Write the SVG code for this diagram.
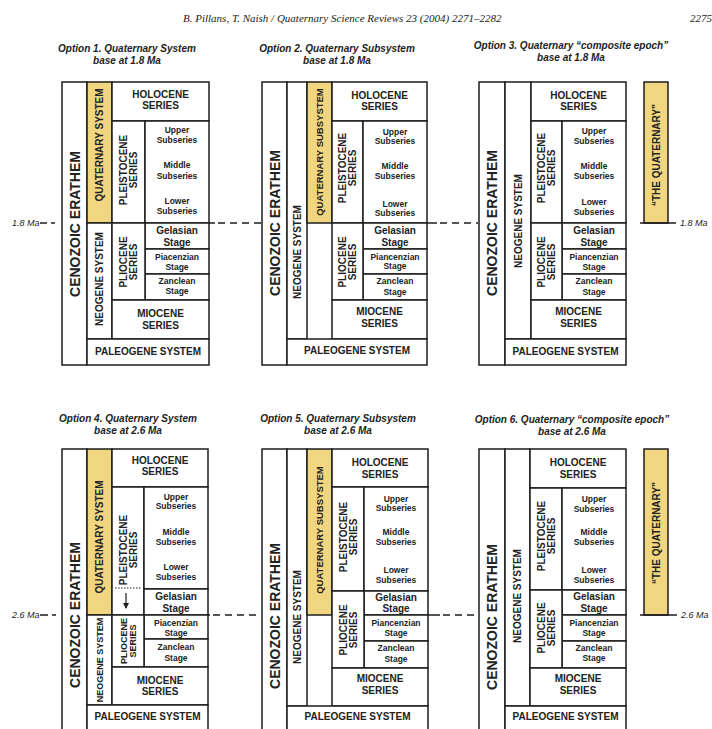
<svg xmlns="http://www.w3.org/2000/svg" width="712" height="729" viewBox="0 0 712 729">
<style>
rect{fill:#fff;stroke:#1d1d1d;stroke-width:1.5}
rect.q{fill:#F1D680}
text{font-family:"Liberation Sans",Arial,sans-serif;font-weight:bold;text-anchor:middle;fill:#222;font-size:10px}
.c{font-size:14px}
.s{font-size:8.5px}
.n9{font-size:9px}
.ti{font-style:italic;font-size:10px}
.ma{font-style:italic;font-weight:normal;font-size:9px;text-anchor:start}
.hd{font-family:"Liberation Serif","Times New Roman",serif;font-style:italic;font-weight:normal;font-size:11px;text-anchor:start}
line{stroke:#1d1d1d;stroke-width:1.5}
.d{stroke-dasharray:7 5}
</style>
<defs>
<marker id="ah" markerWidth="6" markerHeight="6" refX="5" refY="3" orient="auto" markerUnits="userSpaceOnUse"><path d="M0,0 L6,3 L0,6 z" fill="#1d1d1d"/></marker>
</defs>
<text class="hd" x="183" y="22">B. Pillans, T. Naish / Quaternary Science Reviews 23 (2004) 2271–2282</text>
<text class="hd" x="690" y="22">2275</text>

<g id="titles">
<text class="ti" x="127" y="52">Option 1. Quaternary System</text>
<text class="ti" x="127" y="64">base at 1.8 Ma</text>
<text class="ti" x="337" y="52">Option 2. Quaternary Subsystem</text>
<text class="ti" x="337" y="64">base at 1.8 Ma</text>
<text class="ti" x="571" y="49">Option 3. Quaternary “composite epoch”</text>
<text class="ti" x="571" y="61">base at 1.8 Ma</text>
<text class="ti" x="128" y="422">Option 4. Quaternary System</text>
<text class="ti" x="128" y="434">base at 2.6 Ma</text>
<text class="ti" x="338" y="422">Option 5. Quaternary Subsystem</text>
<text class="ti" x="338" y="434">base at 2.6 Ma</text>
<text class="ti" x="572" y="423">Option 6. Quaternary “composite epoch”</text>
<text class="ti" x="572" y="435">base at 2.6 Ma</text>
</g>

<!-- Panel 1 -->
<g id="p1-cenozoic"><rect x="62" y="82" width="25" height="283"/><text class="c" transform="translate(74.5,224) rotate(-90)" y="5">CENOZOIC ERATHEM</text></g>
<g id="p1-quaternary"><rect class="q" x="87" y="82" width="25" height="141"/><text transform="translate(99.5,145) rotate(-90)" y="3.5">QUATERNARY SYSTEM</text></g>
<g id="p1-neogene"><rect x="87" y="223" width="25" height="116"/><text transform="translate(99.5,279) rotate(-90)" y="3.5">NEOGENE SYSTEM</text></g>
<g id="p1-holocene"><rect x="112" y="82" width="97" height="39"/><text x="160.5" y="97.5">HOLOCENE</text><text x="160.5" y="108.5">SERIES</text></g>
<g id="p1-pleistocene"><rect x="112" y="121" width="33" height="102"/><text transform="translate(128.5,170) rotate(-90)"><tspan x="0" y="-1.5">PLEISTOCENE</tspan><tspan x="0" y="8.5">SERIES</tspan></text></g>
<g id="p1-subseries"><rect x="145" y="121" width="64" height="102"/><text class="s" x="177" y="133">Upper</text><text class="s" x="177" y="143">Subseries</text><text class="s" x="177" y="168">Middle</text><text class="s" x="177" y="179">Subseries</text><text class="s" x="177" y="204">Lower</text><text class="s" x="177" y="214">Subseries</text></g>
<g id="p1-gelasian"><rect x="145" y="223" width="64" height="26"/><text x="177" y="234.2">Gelasian</text><text x="177" y="245.5">Stage</text></g>
<g id="p1-piacenzian"><rect x="145" y="249" width="64" height="25"/><text class="s" x="177" y="259.7">Piacenzian</text><text class="s" x="177" y="269.7">Stage</text></g>
<g id="p1-zanclean"><rect x="145" y="274" width="64" height="26"/><text class="s" x="177" y="283.7">Zanclean</text><text class="s" x="177" y="293.7">Stage</text></g>
<g id="p1-pliocene"><rect x="112" y="223" width="33" height="77"/><text transform="translate(128.5,262) rotate(-90)"><tspan x="0" y="-1.5">PLIOCENE</tspan><tspan x="0" y="8.5">SERIES</tspan></text></g>
<g id="p1-miocene"><rect x="112" y="300" width="97" height="39"/><text x="160.5" y="316.5">MIOCENE</text><text x="160.5" y="328.5">SERIES</text></g>
<g id="p1-paleogene"><rect x="87" y="339" width="122" height="26"/><text x="148" y="354.5">PALEOGENE SYSTEM</text></g>

<!-- Panel 2 -->
<g id="p2-cenozoic"><rect x="262" y="82" width="25" height="283"/><text class="c" transform="translate(274.5,223) rotate(-90)" y="5">CENOZOIC ERATHEM</text></g>
<g id="p2-neogene"><rect x="287" y="82" width="20" height="257"/><text transform="translate(297,252) rotate(-90)" y="3.5">NEOGENE SYSTEM</text></g>
<g id="p2-quaternary"><rect class="q" x="307" y="82" width="25" height="141"/><text transform="translate(319.5,152) rotate(-90)" y="3.3" style="font-size:9.5px">QUATERNARY SUBSYSTEM</text></g>
<g id="p2-holocene"><rect x="332" y="82" width="95" height="39"/><text x="379.5" y="98.5">HOLOCENE</text><text x="379.5" y="109.5">SERIES</text></g>
<g id="p2-pleistocene"><rect x="332" y="121" width="31" height="102"/><text transform="translate(347.5,168) rotate(-90)"><tspan x="0" y="-1.5">PLEISTOCENE</tspan><tspan x="0" y="8.5">SERIES</tspan></text></g>
<g id="p2-subseries"><rect x="363" y="121" width="64" height="102"/><text class="s" x="395" y="135.3">Upper</text><text class="s" x="395" y="144">Subseries</text><text class="s" x="395" y="168.7">Middle</text><text class="s" x="395" y="179">Subseries</text><text class="s" x="395" y="207">Lower</text><text class="s" x="395" y="216.3">Subseries</text></g>
<g id="p2-gelasian"><rect x="363" y="223" width="64" height="26"/><text x="395" y="233.8">Gelasian</text><text x="395" y="245.8">Stage</text></g>
<g id="p2-piacenzian"><rect x="363" y="249" width="64" height="25"/><text class="s" x="395" y="259.7">Piancenzian</text><text class="s" x="395" y="269">Stage</text></g>
<g id="p2-zanclean"><rect x="363" y="274" width="64" height="26"/><text class="s" x="395" y="284">Zanclean</text><text class="s" x="395" y="294.7">Stage</text></g>
<g id="p2-pliocene"><rect x="332" y="223" width="31" height="77"/><text transform="translate(347.5,262) rotate(-90)"><tspan x="0" y="-1.5">PLIOCENE</tspan><tspan x="0" y="8.5">SERIES</tspan></text></g>
<g id="p2-miocene"><rect x="332" y="300" width="95" height="39"/><text x="379.5" y="314.5">MIOCENE</text><text x="379.5" y="326.8">SERIES</text></g>
<g id="p2-paleogene"><rect x="287" y="339" width="140" height="26"/><text x="357" y="353.5">PALEOGENE SYSTEM</text></g>

<!-- Panel 3 -->
<g id="p3-cenozoic"><rect x="479" y="82" width="26" height="283"/><text class="c" transform="translate(492,223) rotate(-90)" y="5">CENOZOIC ERATHEM</text></g>
<g id="p3-neogene"><rect x="505" y="82" width="26" height="257"/><text transform="translate(518,221) rotate(-90)" y="3.5">NEOGENE SYSTEM</text></g>
<g id="p3-holocene"><rect x="531" y="82" width="95" height="39"/><text x="578.5" y="98.5">HOLOCENE</text><text x="578.5" y="110">SERIES</text></g>
<g id="p3-pleistocene"><rect x="531" y="121" width="31" height="102"/><text transform="translate(546.5,168) rotate(-90)"><tspan x="0" y="-1.5">PLEISTOCENE</tspan><tspan x="0" y="8.5">SERIES</tspan></text></g>
<g id="p3-subseries"><rect x="562" y="121" width="64" height="102"/><text class="s" x="594" y="134">Upper</text><text class="s" x="594" y="143.5">Subseries</text><text class="s" x="594" y="168.5">Middle</text><text class="s" x="594" y="179">Subseries</text><text class="s" x="594" y="205">Lower</text><text class="s" x="594" y="215">Subseries</text></g>
<g id="p3-gelasian"><rect x="562" y="223" width="64" height="26"/><text x="594" y="234">Gelasian</text><text x="594" y="245.5">Stage</text></g>
<g id="p3-piacenzian"><rect x="562" y="249" width="64" height="25"/><text class="s" x="594" y="259.7">Piancenzian</text><text class="s" x="594" y="269.5">Stage</text></g>
<g id="p3-zanclean"><rect x="562" y="274" width="64" height="26"/><text class="s" x="594" y="284">Zanclean</text><text class="s" x="594" y="294.5">Stage</text></g>
<g id="p3-pliocene"><rect x="531" y="223" width="31" height="77"/><text transform="translate(546.5,262) rotate(-90)"><tspan x="0" y="-1.5">PLIOCENE</tspan><tspan x="0" y="8.5">SERIES</tspan></text></g>
<g id="p3-miocene"><rect x="531" y="300" width="95" height="39"/><text x="578.5" y="315.2">MIOCENE</text><text x="578.5" y="326.8">SERIES</text></g>
<g id="p3-paleogene"><rect x="505" y="339" width="121" height="26"/><text x="565.5" y="355">PALEOGENE SYSTEM</text></g>
<g id="p3-thequaternary"><rect class="q" x="644" y="82" width="24" height="141"/><text transform="translate(656,155) rotate(-90)" y="3.5">“THE QUATERNARY”</text></g>

<!-- Panel 4 -->
<g id="p4-cenozoic"><rect x="62" y="449" width="25" height="300"/><text class="c" transform="translate(74.5,615) rotate(-90)" y="5">CENOZOIC ERATHEM</text></g>
<g id="p4-quaternary"><rect class="q" x="87" y="449" width="25" height="166"/><text transform="translate(99.5,537) rotate(-90)" y="3.5">QUATERNARY SYSTEM</text></g>
<g id="p4-neogene"><rect x="87" y="615" width="25" height="90"/><text class="n9" transform="translate(99.5,660) rotate(-90)" y="3.2">NEOGENE SYSTEM</text></g>
<g id="p4-holocene"><rect x="112" y="449" width="96" height="38"/><text x="160" y="463.5">HOLOCENE</text><text x="160" y="474.5">SERIES</text></g>
<g id="p4-pleistocene"><rect x="112" y="487" width="32" height="128"/><text transform="translate(128,550) rotate(-90)"><tspan x="0" y="-1.5">PLEISTOCENE</tspan><tspan x="0" y="8.5">SERIES</tspan></text><line x1="115" y1="588" x2="142" y2="588" style="stroke-width:1;stroke-dasharray:1.5 1.5"/><line x1="126" y1="593" x2="126" y2="608" style="stroke-width:1.2" marker-end="url(#ah)"/></g>
<g id="p4-subseries"><rect x="144" y="487" width="64" height="102"/><text class="s" x="176" y="499.7">Upper</text><text class="s" x="176" y="509">Subseries</text><text class="s" x="176" y="534.7">Middle</text><text class="s" x="176" y="544.7">Subseries</text><text class="s" x="176" y="569.7">Lower</text><text class="s" x="176" y="579.7">Subseries</text></g>
<g id="p4-gelasian"><rect x="144" y="589" width="64" height="26"/><text x="176" y="600.2">Gelasian</text><text x="176" y="611.8">Stage</text></g>
<g id="p4-piacenzian"><rect x="144" y="615" width="64" height="24"/><text class="s" x="176" y="625.7">Piacenzian</text><text class="s" x="176" y="636.3">Stage</text></g>
<g id="p4-zanclean"><rect x="144" y="639" width="64" height="28"/><text class="s" x="176" y="650.3">Zanclean</text><text class="s" x="176" y="660.7">Stage</text></g>
<g id="p4-pliocene"><rect x="112" y="615" width="32" height="52"/><text class="n9" transform="translate(128,641) rotate(-90)"><tspan x="0" y="-1.3">PLIOCENE</tspan><tspan x="0" y="7.7">SERIES</tspan></text></g>
<g id="p4-miocene"><rect x="112" y="667" width="96" height="38"/><text x="160" y="683.5">MIOCENE</text><text x="160" y="695.2">SERIES</text></g>
<g id="p4-paleogene"><rect x="87" y="705" width="121" height="44"/><text x="147.5" y="720.2">PALEOGENE SYSTEM</text></g>

<!-- Panel 5 -->
<g id="p5-cenozoic"><rect x="262" y="449" width="25" height="300"/><text class="c" transform="translate(274.5,616) rotate(-90)" y="5">CENOZOIC ERATHEM</text></g>
<g id="p5-neogene"><rect x="287" y="449" width="20" height="257"/><text transform="translate(297,617) rotate(-90)" y="3.5">NEOGENE SYSTEM</text></g>
<g id="p5-quaternary"><rect class="q" x="307" y="449" width="25" height="166"/><text transform="translate(319.5,530) rotate(-90)" y="3.3" style="font-size:9.5px">QUATERNARY SUBSYSTEM</text></g>
<g id="p5-holocene"><rect x="332" y="449" width="96" height="38"/><text x="380" y="465.8">HOLOCENE</text><text x="380" y="477.5">SERIES</text></g>
<g id="p5-pleistocene"><rect x="332" y="487" width="32" height="104"/><text transform="translate(348,537) rotate(-90)"><tspan x="0" y="-1.5">PLEISTOCENE</tspan><tspan x="0" y="8.5">SERIES</tspan></text></g>
<g id="p5-subseries"><rect x="364" y="487" width="64" height="104"/><text class="s" x="396" y="501.7">Upper</text><text class="s" x="396" y="511.3">Subseries</text><text class="s" x="396" y="534.7">Middle</text><text class="s" x="396" y="544.7">Subseries</text><text class="s" x="396" y="573">Lower</text><text class="s" x="396" y="583">Subseries</text></g>
<g id="p5-gelasian"><rect x="364" y="591" width="64" height="24"/><text x="396" y="600.5">Gelasian</text><text x="396" y="611.8">Stage</text></g>
<g id="p5-piacenzian"><rect x="364" y="615" width="64" height="26"/><text class="s" x="396" y="625.7">Piancenzian</text><text class="s" x="396" y="635.7">Stage</text></g>
<g id="p5-zanclean"><rect x="364" y="641" width="64" height="27"/><text class="s" x="396" y="651.3">Zanclean</text><text class="s" x="396" y="662.3">Stage</text></g>
<g id="p5-pliocene"><rect x="332" y="591" width="32" height="77"/><text transform="translate(348,630) rotate(-90)"><tspan x="0" y="-1.5">PLIOCENE</tspan><tspan x="0" y="8.5">SERIES</tspan></text></g>
<g id="p5-miocene"><rect x="332" y="668" width="96" height="38"/><text x="380" y="681.8">MIOCENE</text><text x="380" y="693.5">SERIES</text></g>
<g id="p5-paleogene"><rect x="287" y="706" width="141" height="43"/><text x="357.5" y="720.2">PALEOGENE SYSTEM</text></g>

<!-- Panel 6 -->
<g id="p6-cenozoic"><rect x="479" y="449" width="26" height="300"/><text class="c" transform="translate(492,617) rotate(-90)" y="5">CENOZOIC ERATHEM</text></g>
<g id="p6-neogene"><rect x="505" y="449" width="25" height="257"/><text transform="translate(517.5,596) rotate(-90)" y="3.5">NEOGENE SYSTEM</text></g>
<g id="p6-holocene"><rect x="530" y="449" width="96" height="39"/><text x="578" y="465.8">HOLOCENE</text><text x="578" y="477.5">SERIES</text></g>
<g id="p6-pleistocene"><rect x="530" y="488" width="32" height="102"/><text transform="translate(546,536) rotate(-90)"><tspan x="0" y="-1.5">PLEISTOCENE</tspan><tspan x="0" y="8.5">SERIES</tspan></text></g>
<g id="p6-subseries"><rect x="562" y="488" width="64" height="102"/><text class="s" x="594" y="501.7">Upper</text><text class="s" x="594" y="512">Subseries</text><text class="s" x="594" y="534.7">Middle</text><text class="s" x="594" y="544.7">Subseries</text><text class="s" x="594" y="573">Lower</text><text class="s" x="594" y="583">Subseries</text></g>
<g id="p6-gelasian"><rect x="562" y="590" width="64" height="25"/><text x="594" y="600.2">Gelasian</text><text x="594" y="611.8">Stage</text></g>
<g id="p6-piacenzian"><rect x="562" y="615" width="64" height="26"/><text class="s" x="594" y="625.7">Piancenzian</text><text class="s" x="594" y="635.7">Stage</text></g>
<g id="p6-zanclean"><rect x="562" y="641" width="64" height="27"/><text class="s" x="594" y="651.3">Zanclean</text><text class="s" x="594" y="661.3">Stage</text></g>
<g id="p6-pliocene"><rect x="530" y="590" width="32" height="78"/><text transform="translate(546,628) rotate(-90)"><tspan x="0" y="-1.5">PLIOCENE</tspan><tspan x="0" y="8.5">SERIES</tspan></text></g>
<g id="p6-miocene"><rect x="530" y="668" width="96" height="38"/><text x="578" y="681.8">MIOCENE</text><text x="578" y="693.5">SERIES</text></g>
<g id="p6-paleogene"><rect x="505" y="706" width="121" height="43"/><text x="565.5" y="720.2">PALEOGENE SYSTEM</text></g>
<g id="p6-thequaternary"><rect class="q" x="644" y="449" width="24" height="166"/><text transform="translate(656,533) rotate(-90)" y="3.5">“THE QUATERNARY”</text></g>

<!-- Boundary lines -->
<g id="connectors">
<text class="ma" x="12" y="226">1.8 Ma</text>
<line x1="40" y1="223" x2="47" y2="223"/>
<line x1="51" y1="223" x2="55" y2="223"/>
<line x1="209" y1="223" x2="215" y2="223"/>
<line class="d" x1="218" y1="223" x2="261" y2="223"/>
<line x1="427" y1="223" x2="437" y2="223"/>
<line class="d" x1="440" y1="223" x2="478" y2="223"/>
<line x1="640" y1="223" x2="676" y2="223"/>
<text class="ma" x="680" y="226">1.8 Ma</text>
<text class="ma" x="12" y="618">2.6 Ma</text>
<line x1="40" y1="615" x2="48" y2="615"/>
<line x1="52" y1="615" x2="56" y2="615"/>
<line x1="208" y1="615" x2="210" y2="615"/>
<line class="d" x1="213" y1="615" x2="261" y2="615"/>
<line x1="428" y1="615" x2="440" y2="615"/>
<line class="d" x1="443" y1="615" x2="478" y2="615"/>
<line x1="640" y1="615" x2="677" y2="615"/>
<text class="ma" x="681" y="618">2.6 Ma</text>
</g>
</svg>
